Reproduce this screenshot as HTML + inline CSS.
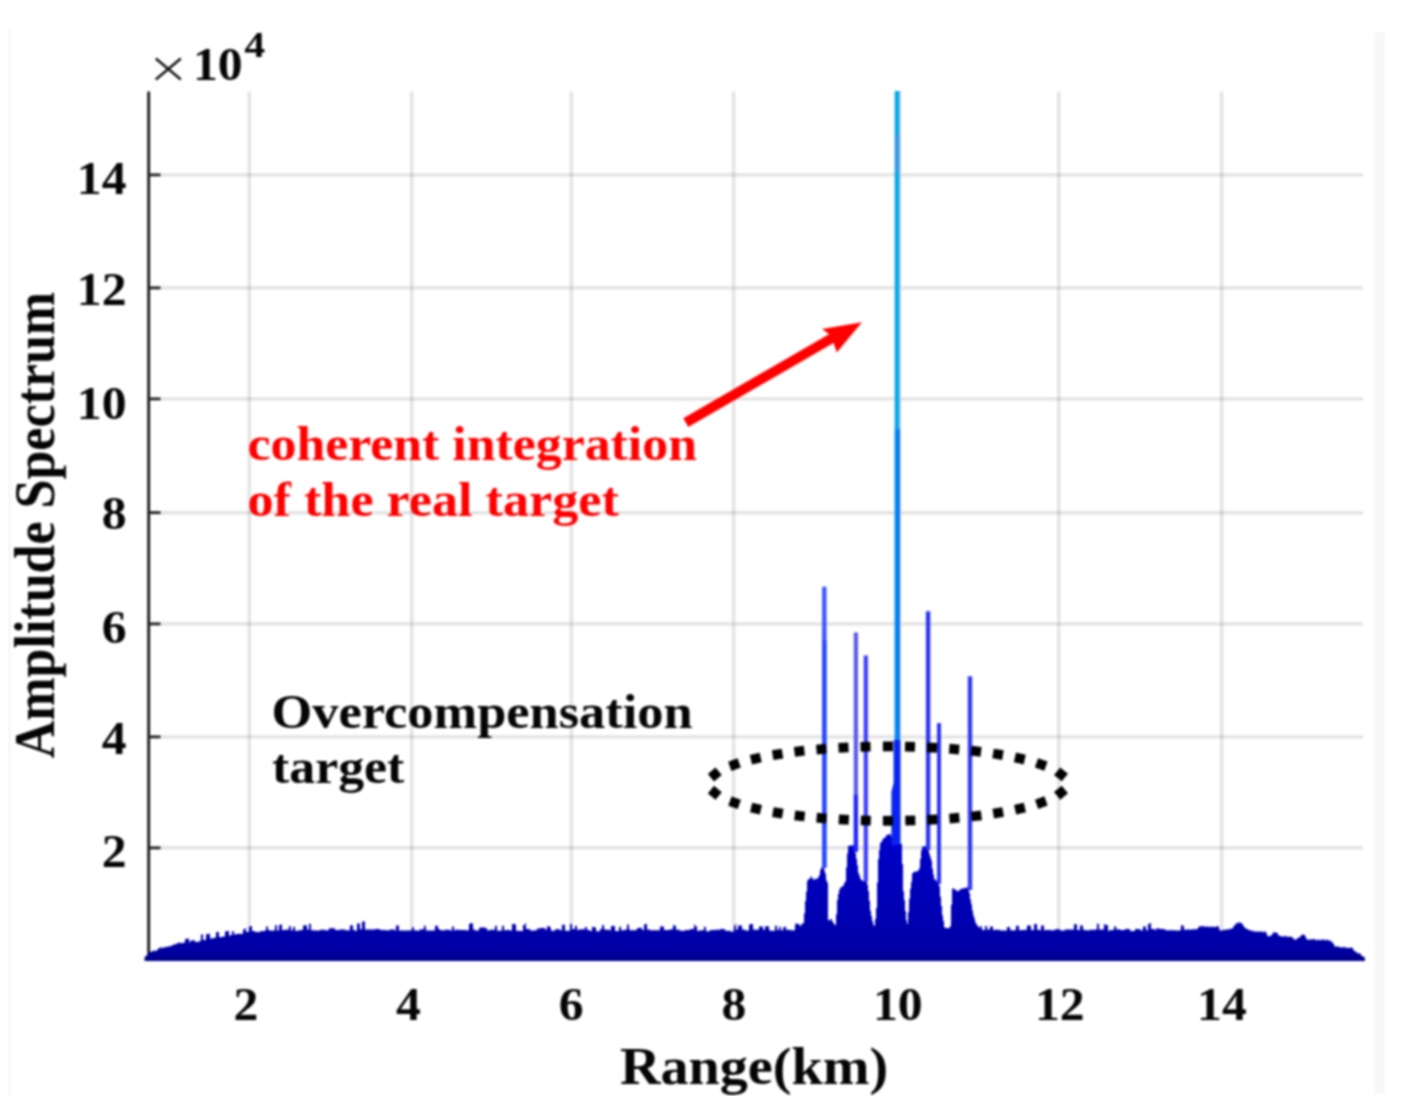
<!DOCTYPE html><html><head><meta charset="utf-8"><style>html,body{margin:0;padding:0;background:#fff;}svg{display:block;}text{font-family:"Liberation Serif",serif;font-weight:bold;}</style></head><body>
<div id="w">
<svg width="1412" height="1120" viewBox="0 0 1412 1120">
<defs><filter id="bl" x="0" y="0" width="1" height="1" color-interpolation-filters="sRGB"><feGaussianBlur stdDeviation="0.9"/></filter></defs>
<rect width="1412" height="1120" fill="#fff"/>
<g filter="url(#bl)">
<rect x="8.5" y="30" width="2" height="1066" fill="#f3f3f3"/>
<rect x="1374.5" y="32" width="10.5" height="1062" fill="#f7f7f8"/>
<path d="M148.7 174.9H1363.0M148.7 287.9H1363.0M148.7 398.9H1363.0M148.7 512.7H1363.0M148.7 623.9H1363.0M148.7 736.9H1363.0M148.7 847.8H1363.0" stroke="#000" stroke-opacity="0.11" stroke-width="3.4" fill="none"/>
<path d="M249.3 91.6V960.0M411.7 91.6V960.0M571.4 91.6V960.0M733.6 91.6V960.0M896.2 91.6V960.0M1058.7 91.6V960.0M1221.7 91.6V960.0" stroke="#000" stroke-opacity="0.11" stroke-width="3.4" fill="none"/>
<path d="M148.7 91.6V960.5" stroke="#141414" stroke-width="2.8" fill="none"/>
<path d="M148.7 174.9H160.5M148.7 287.9H160.5M148.7 398.9H160.5M148.7 512.7H160.5M148.7 623.9H160.5M148.7 736.9H160.5M148.7 847.8H160.5" stroke="#202020" stroke-width="2.8" fill="none"/>
<defs><linearGradient id="nv" gradientUnits="userSpaceOnUse" x1="0" y1="830" x2="0" y2="960"><stop offset="0" stop-color="#0000cc"/><stop offset="0.7" stop-color="#0000b0"/><stop offset="0.92" stop-color="#0000a4"/><stop offset="1" stop-color="#00008c"/></linearGradient></defs>
<path d="M144.5 961.0L144.5 957.5L145 956.5L146 956.5L146 955.5L147 955.5L147 954.8L148 954.8L148 953.1L149 953.1L149 952.4L150 952.4L150 951.8L151 951.8L151 952.1L152 952.1L152 950.9L153 950.9L153 950.6L154 950.6L154 951.1L155 951.1L155 950.8L156 950.8L156 950.4L157 950.4L157 950.1L158 950.1L158 948.5L159 948.5L159 947.9L160 947.9L160 947.1L161 947.1L161 948.2L162 948.2L162 947.8L163 947.8L163 947.4L164 947.4L164 947.2L165 947.2L165 947.1L166 947.1L166 946.9L167 946.9L167 946.7L168 946.7L168 946.5L169 946.5L169 946.3L170 946.3L170 946.0L171 946.0L171 945.8L172 945.8L172 945.3L173 945.3L173 944.8L174 944.8L174 944.3L175 944.3L175 944.2L176 944.2L176 943.7L177 943.7L177 943.2L178 943.2L178 942.7L179 942.7L179 942.6L180 942.6L180 943.2L181 943.2L181 943.1L182 943.1L182 942.9L183 942.9L183 942.8L184 942.8L184 942.7L185 942.7L185 939.1L186 939.1L186 938.9L187 938.9L187 938.6L188 938.6L188 938.4L189 938.4L189 942.4L190 942.4L190 940.8L191 940.8L191 940.6L192 940.6L192 940.5L193 940.5L193 940.3L194 940.3L194 940.2L195 940.2L195 942.1L196 942.1L196 942.0L197 942.0L197 941.8L198 941.8L198 941.7L199 941.7L199 941.6L200 941.6L200 940.4L201 940.4L201 934.5L202 934.5L202 934.3L203 934.3L203 939.9L204 939.9L204 939.7L205 939.7L205 940.0L206 940.0L206 934.3L207 934.3L207 934.1L208 934.1L208 934.0L209 934.0L209 933.8L210 933.8L210 938.6L211 938.6L211 938.4L212 938.4L212 938.3L213 938.3L213 938.1L214 938.1L214 937.9L215 937.9L215 937.6L216 937.6L216 932.3L217 932.3L217 932.1L218 932.1L218 932.0L219 932.0L219 936.9L220 936.9L220 937.2L221 937.2L221 937.0L222 937.0L222 936.8L223 936.8L223 936.6L224 936.6L224 936.5L225 936.5L225 931.4L226 931.4L226 931.2L227 931.2L227 931.1L228 931.1L228 930.9L229 930.9L229 935.9L230 935.9L230 935.1L231 935.1L231 934.9L232 934.9L232 931.3L233 931.3L233 931.2L234 931.2L234 934.4L235 934.4L235 934.3L236 934.3L236 934.1L237 934.1L237 934.0L238 934.0L238 933.8L239 933.8L239 933.7L240 933.7L240 934.0L241 934.0L241 933.9L242 933.9L242 933.7L243 933.7L243 929.4L244 929.4L244 929.3L245 929.3L245 928.2L246 928.2L246 932.1L247 932.1L247 932.0L248 932.0L248 931.8L249 931.8L249 926.7L250 926.7L250 926.2L251 926.2L251 926.1L252 926.1L252 931.0L253 931.0L253 931.0L254 931.0L254 930.9L255 930.9L255 932.0L256 932.0L256 932.0L257 932.0L257 932.0L258 932.0L258 931.9L259 931.9L259 931.9L260 931.9L260 931.2L261 931.2L261 931.2L262 931.2L262 931.1L263 931.1L263 931.1L264 931.1L264 931.0L265 931.0L265 930.2L266 930.2L266 926.5L267 926.5L267 926.5L268 926.5L268 930.1L269 930.1L269 930.1L270 930.1L270 930.7L271 930.7L271 930.7L272 930.7L272 930.6L273 930.6L273 930.6L274 930.6L274 930.6L275 930.6L275 925.3L276 925.3L276 925.3L277 925.3L277 930.6L278 930.6L278 930.6L279 930.6L279 925.0L280 925.0L280 924.6L281 924.6L281 924.5L282 924.5L282 930.0L283 930.0L283 930.0L284 930.0L284 929.9L285 929.9L285 929.7L286 929.7L286 929.7L287 929.7L287 929.6L288 929.6L288 929.6L289 929.6L289 925.7L290 925.7L290 926.6L291 926.6L291 930.4L292 930.4L292 930.3L293 930.3L293 926.9L294 926.9L294 926.8L295 926.8L295 930.7L296 930.7L296 930.7L297 930.7L297 930.7L298 930.7L298 930.6L299 930.6L299 930.6L300 930.6L300 929.9L301 929.9L301 929.9L302 929.9L302 929.9L303 929.9L303 925.5L304 925.5L304 925.5L305 925.5L305 925.2L306 925.2L306 925.2L307 925.2L307 929.6L308 929.6L308 929.6L309 929.6L309 923.4L310 923.4L310 924.0L311 924.0L311 930.2L312 930.2L312 930.2L313 930.2L313 930.2L314 930.2L314 930.2L315 930.2L315 930.4L316 930.4L316 930.4L317 930.4L317 930.4L318 930.4L318 930.4L319 930.4L319 930.4L320 930.4L320 929.8L321 929.8L321 929.8L322 929.8L322 929.8L323 929.8L323 929.8L324 929.8L324 929.8L325 929.8L325 930.3L326 930.3L326 930.3L327 930.3L327 930.3L328 930.3L328 930.3L329 930.3L329 927.9L330 927.9L330 928.2L331 928.2L331 928.2L332 928.2L332 928.2L333 928.2L333 928.2L334 928.2L334 928.2L335 928.2L335 929.9L336 929.9L336 929.9L337 929.9L337 929.9L338 929.9L338 929.9L339 929.9L339 929.9L340 929.9L340 929.5L341 929.5L341 929.5L342 929.5L342 929.5L343 929.5L343 929.5L344 929.5L344 929.5L345 929.5L345 930.2L346 930.2L346 930.2L347 930.2L347 930.2L348 930.2L348 930.2L349 930.2L349 930.2L350 930.2L350 925.3L351 925.3L351 925.3L352 925.3L352 925.3L353 925.3L353 930.1L354 930.1L354 930.1L355 930.1L355 930.7L356 930.7L356 930.7L357 930.7L357 923.6L358 923.6L358 923.6L359 923.6L359 923.6L360 923.6L360 929.2L361 929.2L361 929.2L362 929.2L362 921.6L363 921.6L363 921.6L364 921.6L364 921.6L365 921.6L365 929.6L366 929.6L366 929.6L367 929.6L367 929.6L368 929.6L368 929.6L369 929.6L369 929.6L370 929.6L370 929.5L371 929.5L371 929.5L372 929.5L372 929.5L373 929.5L373 929.5L374 929.5L374 929.5L375 929.5L375 929.0L376 929.0L376 929.0L377 929.0L377 929.0L378 929.0L378 929.0L379 929.0L379 929.0L380 929.0L380 930.1L381 930.1L381 930.1L382 930.1L382 930.1L383 930.1L383 930.1L384 930.1L384 930.1L385 930.1L385 930.3L386 930.3L386 930.3L387 930.3L387 930.3L388 930.3L388 930.3L389 930.3L389 930.3L390 930.3L390 929.6L391 929.6L391 929.6L392 929.6L392 929.6L393 929.6L393 929.6L394 929.6L394 929.6L395 929.6L395 930.8L396 930.8L396 925.5L397 925.5L397 925.5L398 925.5L398 925.5L399 925.5L399 930.8L400 930.8L400 930.5L401 930.5L401 930.5L402 930.5L402 930.5L403 930.5L403 930.5L404 930.5L404 930.5L405 930.5L405 930.4L406 930.4L406 930.4L407 930.4L407 930.4L408 930.4L408 930.4L409 930.4L409 930.4L410 930.4L410 930.2L411 930.2L411 930.2L412 930.2L412 927.2L413 927.2L413 927.2L414 927.2L414 930.2L415 930.2L415 930.6L416 930.6L416 930.6L417 930.6L417 930.6L418 930.6L418 930.6L419 930.6L419 930.6L420 930.6L420 929.2L421 929.2L421 929.2L422 929.2L422 929.2L423 929.2L423 929.2L424 929.2L424 925.2L425 925.2L425 926.4L426 926.4L426 930.4L427 930.4L427 930.4L428 930.4L428 930.4L429 930.4L429 930.4L430 930.4L430 930.4L431 930.4L431 930.4L432 930.4L432 930.4L433 930.4L433 930.4L434 930.4L434 930.4L435 930.4L435 925.7L436 925.7L436 925.7L437 925.7L437 925.7L438 925.7L438 928.9L439 928.9L439 928.9L440 928.9L440 930.2L441 930.2L441 930.2L442 930.2L442 930.2L443 930.2L443 930.2L444 930.2L444 930.2L445 930.2L445 929.8L446 929.8L446 929.8L447 929.8L447 929.8L448 929.8L448 929.8L449 929.8L449 929.8L450 929.8L450 930.5L451 930.5L451 930.5L452 930.5L452 926.5L453 926.5L453 926.5L454 926.5L454 930.5L455 930.5L455 929.7L456 929.7L456 929.7L457 929.7L457 929.7L458 929.7L458 929.7L459 929.7L459 929.7L460 929.7L460 930.0L461 930.0L461 930.0L462 930.0L462 930.0L463 930.0L463 930.0L464 930.0L464 930.0L465 930.0L465 930.2L466 930.2L466 930.2L467 930.2L467 930.2L468 930.2L468 930.2L469 930.2L469 924.0L470 924.0L470 923.2L471 923.2L471 923.2L472 923.2L472 923.2L473 923.2L473 929.5L474 929.5L474 929.5L475 929.5L475 930.4L476 930.4L476 930.4L477 930.4L477 930.4L478 930.4L478 930.4L479 930.4L479 928.0L480 928.0L480 927.5L481 927.5L481 927.5L482 927.5L482 927.5L483 927.5L483 927.5L484 927.5L484 927.5L485 927.5L485 927.9L486 927.9L486 927.9L487 927.9L487 930.3L488 930.3L488 930.3L489 930.3L489 930.3L490 930.3L490 929.7L491 929.7L491 929.7L492 929.7L492 929.7L493 929.7L493 929.7L494 929.7L494 929.7L495 929.7L495 925.7L496 925.7L496 925.7L497 925.7L497 930.7L498 930.7L498 930.7L499 930.7L499 930.7L500 930.7L500 930.4L501 930.4L501 930.4L502 930.4L502 925.8L503 925.8L503 925.8L504 925.8L504 930.4L505 930.4L505 929.9L506 929.9L506 929.9L507 929.9L507 929.9L508 929.9L508 929.9L509 929.9L509 929.9L510 929.9L510 930.4L511 930.4L511 930.4L512 930.4L512 924.1L513 924.1L513 924.1L514 924.1L514 924.1L515 924.1L515 924.5L516 924.5L516 930.8L517 930.8L517 930.8L518 930.8L518 930.8L519 930.8L519 930.8L520 930.8L520 931.1L521 931.1L521 931.1L522 931.1L522 931.1L523 931.1L523 925.0L524 925.0L524 925.0L525 925.0L525 922.9L526 922.9L526 929.1L527 929.1L527 929.1L528 929.1L528 929.1L529 929.1L529 929.1L530 929.1L530 930.5L531 930.5L531 930.5L532 930.5L532 930.5L533 930.5L533 930.5L534 930.5L534 930.5L535 930.5L535 930.3L536 930.3L536 930.3L537 930.3L537 928.4L538 928.4L538 928.4L539 928.4L539 928.4L540 928.4L540 928.0L541 928.0L541 928.0L542 928.0L542 928.0L543 928.0L543 928.0L544 928.0L544 928.0L545 928.0L545 929.4L546 929.4L546 929.4L547 929.4L547 926.3L548 926.3L548 926.3L549 926.3L549 926.3L550 926.3L550 927.7L551 927.7L551 930.8L552 930.8L552 930.8L553 930.8L553 930.8L554 930.8L554 930.8L555 930.8L555 929.2L556 929.2L556 929.2L557 929.2L557 929.2L558 929.2L558 929.2L559 929.2L559 929.2L560 929.2L560 930.3L561 930.3L561 930.3L562 930.3L562 924.7L563 924.7L563 924.7L564 924.7L564 924.7L565 924.7L565 930.8L566 930.8L566 930.8L567 930.8L567 930.8L568 930.8L568 930.8L569 930.8L569 930.8L570 930.8L570 924.1L571 924.1L571 924.1L572 924.1L572 929.0L573 929.0L573 929.0L574 929.0L574 929.0L575 929.0L575 925.7L576 925.7L576 925.7L577 925.7L577 929.8L578 929.8L578 929.8L579 929.8L579 929.8L580 929.8L580 929.2L581 929.2L581 929.2L582 929.2L582 929.2L583 929.2L583 929.2L584 929.2L584 929.2L585 929.2L585 926.9L586 926.9L586 926.9L587 926.9L587 930.1L588 930.1L588 930.1L589 930.1L589 930.1L590 930.1L590 930.9L591 930.9L591 930.9L592 930.9L592 927.1L593 927.1L593 927.1L594 927.1L594 927.1L595 927.1L595 927.4L596 927.4L596 931.2L597 931.2L597 931.2L598 931.2L598 931.2L599 931.2L599 931.2L600 931.2L600 928.9L601 928.9L601 928.9L602 928.9L602 925.0L603 925.0L603 925.0L604 925.0L604 928.9L605 928.9L605 929.7L606 929.7L606 929.7L607 929.7L607 929.7L608 929.7L608 929.7L609 929.7L609 929.7L610 929.7L610 930.4L611 930.4L611 925.9L612 925.9L612 925.9L613 925.9L613 925.9L614 925.9L614 925.9L615 925.9L615 930.9L616 930.9L616 930.9L617 930.9L617 930.9L618 930.9L618 930.9L619 930.9L619 927.1L620 927.1L620 926.4L621 926.4L621 930.3L622 930.3L622 930.3L623 930.3L623 930.3L624 930.3L624 930.3L625 930.3L625 929.6L626 929.6L626 929.6L627 929.6L627 924.6L628 924.6L628 924.6L629 924.6L629 929.6L630 929.6L630 930.2L631 930.2L631 930.2L632 930.2L632 930.2L633 930.2L633 930.2L634 930.2L634 930.2L635 930.2L635 930.0L636 930.0L636 930.0L637 930.0L637 927.9L638 927.9L638 927.9L639 927.9L639 927.9L640 927.9L640 927.8L641 927.8L641 927.8L642 927.8L642 929.9L643 929.9L643 929.9L644 929.9L644 924.4L645 924.4L645 924.0L646 924.0L646 924.0L647 924.0L647 929.6L648 929.6L648 929.6L649 929.6L649 929.6L650 929.6L650 930.2L651 930.2L651 930.2L652 930.2L652 930.2L653 930.2L653 930.2L654 930.2L654 930.2L655 930.2L655 930.2L656 930.2L656 930.2L657 930.2L657 930.2L658 930.2L658 930.2L659 930.2L659 930.2L660 930.2L660 926.6L661 926.6L661 926.6L662 926.6L662 926.6L663 926.6L663 926.6L664 926.6L664 929.9L665 929.9L665 929.9L666 929.9L666 929.9L667 929.9L667 929.9L668 929.9L668 929.9L669 929.9L669 929.9L670 929.9L670 929.2L671 929.2L671 929.2L672 929.2L672 929.2L673 929.2L673 925.2L674 925.2L674 925.2L675 925.2L675 925.7L676 925.7L676 929.7L677 929.7L677 929.7L678 929.7L678 929.7L679 929.7L679 929.7L680 929.7L680 930.7L681 930.7L681 930.7L682 930.7L682 930.7L683 930.7L683 930.7L684 930.7L684 930.7L685 930.7L685 929.9L686 929.9L686 929.9L687 929.9L687 929.9L688 929.9L688 929.9L689 929.9L689 929.9L690 929.9L690 929.1L691 929.1L691 929.1L692 929.1L692 929.1L693 929.1L693 929.1L694 929.1L694 924.6L695 924.6L695 926.2L696 926.2L696 926.2L697 926.2L697 930.8L698 930.8L698 930.8L699 930.8L699 930.8L700 930.8L700 930.3L701 930.3L701 930.3L702 930.3L702 930.3L703 930.3L703 930.3L704 930.3L704 926.4L705 926.4L705 927.3L706 927.3L706 931.3L707 931.3L707 931.3L708 931.3L708 931.3L709 931.3L709 931.3L710 931.3L710 930.0L711 930.0L711 930.0L712 930.0L712 930.0L713 930.0L713 930.0L714 930.0L714 930.0L715 930.0L715 929.7L716 929.7L716 929.7L717 929.7L717 929.7L718 929.7L718 929.7L719 929.7L719 929.7L720 929.7L720 929.1L721 929.1L721 929.1L722 929.1L722 929.1L723 929.1L723 929.1L724 929.1L724 929.1L725 929.1L725 930.8L726 930.8L726 930.8L727 930.8L727 930.8L728 930.8L728 930.8L729 930.8L729 930.8L730 930.8L730 931.5L731 931.5L731 931.5L732 931.5L732 931.5L733 931.5L733 931.5L734 931.5L734 926.0L735 926.0L735 924.0L736 924.0L736 929.5L737 929.5L737 929.5L738 929.5L738 925.5L739 925.5L739 925.5L740 925.5L740 925.6L741 925.6L741 925.6L742 925.6L742 929.6L743 929.6L743 929.6L744 929.6L744 929.6L745 929.6L745 930.4L746 930.4L746 930.4L747 930.4L747 930.4L748 930.4L748 930.4L749 930.4L749 924.7L750 924.7L750 923.9L751 923.9L751 923.9L752 923.9L752 923.9L753 923.9L753 929.5L754 929.5L754 929.5L755 929.5L755 929.8L756 929.8L756 929.8L757 929.8L757 929.8L758 929.8L758 929.8L759 929.8L759 926.4L760 926.4L760 926.4L761 926.4L761 926.4L762 926.4L762 926.4L763 926.4L763 929.8L764 929.8L764 929.8L765 929.8L765 926.3L766 926.3L766 926.3L767 926.3L767 926.3L768 926.3L768 926.3L769 926.3L769 930.1L770 930.1L770 930.7L771 930.7L771 930.7L772 930.7L772 930.7L773 930.7L773 930.7L774 930.7L774 930.7L775 930.7L775 925.7L776 925.7L776 925.7L777 925.7L777 930.0L778 930.0L778 930.0L779 930.0L779 926.7L780 926.7L780 927.3L781 927.3L781 930.6L782 930.6L782 930.6L783 930.6L783 927.2L784 927.2L784 927.2L785 927.2L785 926.4L786 926.4L786 929.7L787 929.7L787 929.7L788 929.7L788 929.7L789 929.7L789 929.7L790 929.7L790 930.2L791 930.2L791 930.2L792 930.2L792 930.2L793 930.2L793 930.2L794 930.2L794 930.2L795 930.2L795 923.7L796 923.7L796 923.7L797 923.7L797 923.7L798 923.7L798 923.7L799 923.7L799 925.1L800 925.1L800 926.3L801 926.3L801 924.4L802 924.4L802 923.3L803 923.3L803 923.3L804 923.3L804 913.3L805 913.3L805 900.9L806 900.9L806 891.8L807 891.8L807 880.7L808 880.7L808 879.2L809 879.2L809 879.0L810 879.0L810 877.5L811 877.5L811 876.3L812 876.3L812 878.6L813 878.6L813 879.5L814 879.5L814 879.6L815 879.6L815 878.8L816 878.8L816 878.8L817 878.8L817 878.7L818 878.7L818 877.0L819 877.0L819 875.3L820 875.3L820 870.0L821 870.0L821 867.5L822 867.5L822 864.8L823 864.8L823 867.1L824 867.1L824 870.4L825 870.4L825 873.7L826 873.7L826 880.3L827 880.3L827 882.7L828 882.7L828 920.0L829 920.0L829 920.6L830 920.6L830 919.3L831 919.3L831 918.9L832 918.9L832 921.6L833 921.6L833 923.0L834 923.0L834 924.3L835 924.3L835 925.3L836 925.3L836 914.3L837 914.3L837 899.9L838 899.9L838 894.1L839 894.1L839 889.7L840 889.7L840 887.8L841 887.8L841 886.9L842 886.9L842 886.2L843 886.2L843 885.4L844 885.4L844 882.9L845 882.9L845 881.3L846 881.3L846 867.3L847 867.3L847 853.6L848 853.6L848 846.1L849 846.1L849 845.5L850 845.5L850 845.4L851 845.4L851 845.7L852 845.7L852 845.0L853 845.0L853 845.4L854 845.4L854 845.6L855 845.6L855 852.9L856 852.9L856 858.8L857 858.8L857 865.3L858 865.3L858 872.7L859 872.7L859 875.4L860 875.4L860 878.4L861 878.4L861 880.0L862 880.0L862 880.8L863 880.8L863 880.7L864 880.7L864 880.3L865 880.3L865 878.8L866 878.8L866 877.4L867 877.4L867 884.5L868 884.5L868 891.1L869 891.1L869 900.7L870 900.7L870 910.7L871 910.7L871 915.9L872 915.9L872 921.1L873 921.1L873 924.5L874 924.5L874 926.0L875 926.0L875 919.1L876 919.1L876 907.9L877 907.9L877 882.5L878 882.5L878 859.1L879 859.1L879 849.9L880 849.9L880 842.7L881 842.7L881 841.9L882 841.9L882 839.8L883 839.8L883 838.6L884 838.6L884 837.7L885 837.7L885 837.2L886 837.2L886 835.1L887 835.1L887 835.2L888 835.2L888 834.3L889 834.3L889 834.3L890 834.3L890 834.6L891 834.6L891 837.1L892 837.1L892 837.7L893 837.7L893 836.7L894 836.7L894 834.1L895 834.1L895 833.2L896 833.2L896 835.6L897 835.6L897 835.7L898 835.7L898 838.3L899 838.3L899 839.9L900 839.9L900 842.9L901 842.9L901 844.0L902 844.0L902 863.9L903 863.9L903 891.2L904 891.2L904 899.9L905 899.9L905 911.0L906 911.0L906 920.3L907 920.3L907 924.1L908 924.1L908 911.9L909 911.9L909 899.1L910 899.1L910 888.7L911 888.7L911 882.1L912 882.1L912 873.5L913 873.5L913 872.1L914 872.1L914 872.2L915 872.2L915 871.0L916 871.0L916 872.1L917 872.1L917 870.7L918 870.7L918 870.4L919 870.4L919 868.3L920 868.3L920 859.1L921 859.1L921 850.4L922 850.4L922 846.8L923 846.8L923 846.4L924 846.4L924 846.5L925 846.5L925 846.0L926 846.0L926 845.2L927 845.2L927 846.3L928 846.3L928 850.2L929 850.2L929 854.0L930 854.0L930 857.3L931 857.3L931 860.4L932 860.4L932 868.8L933 868.8L933 874.6L934 874.6L934 879.8L935 879.8L935 879.0L936 879.0L936 880.9L937 880.9L937 879.9L938 879.9L938 880.8L939 880.8L939 886.4L940 886.4L940 896.7L941 896.7L941 906.0L942 906.0L942 915.3L943 915.3L943 920.8L944 920.8L944 927.2L945 927.2L945 928.1L946 928.1L946 928.1L947 928.1L947 928.1L948 928.1L948 928.1L949 928.1L949 928.1L950 928.1L950 926.0L951 926.0L951 904.7L952 904.7L952 888.8L953 888.8L953 888.2L954 888.2L954 889.1L955 889.1L955 890.0L956 890.0L956 890.3L957 890.3L957 891.2L958 891.2L958 891.2L959 891.2L959 889.8L960 889.8L960 889.3L961 889.3L961 888.7L962 888.7L962 888.7L963 888.7L963 887.9L964 887.9L964 888.2L965 888.2L965 887.8L966 887.8L966 887.5L967 887.5L967 887.6L968 887.6L968 887.0L969 887.0L969 892.9L970 892.9L970 899.6L971 899.6L971 904.3L972 904.3L972 910.6L973 910.6L973 915.3L974 915.3L974 918.6L975 918.6L975 922.2L976 922.2L976 924.0L977 924.0L977 925.7L978 925.7L978 926.6L979 926.6L979 928.0L980 928.0L980 926.3L981 926.3L981 926.3L982 926.3L982 929.9L983 929.9L983 929.9L984 929.9L984 929.9L985 929.9L985 926.0L986 926.0L986 926.0L987 926.0L987 929.6L988 929.6L988 929.6L989 929.6L989 929.6L990 929.6L990 926.4L991 926.4L991 926.4L992 926.4L992 926.4L993 926.4L993 930.1L994 930.1L994 930.1L995 930.1L995 929.7L996 929.7L996 929.7L997 929.7L997 929.7L998 929.7L998 929.7L999 929.7L999 929.7L1000 929.7L1000 930.4L1001 930.4L1001 930.4L1002 930.4L1002 930.4L1003 930.4L1003 930.4L1004 930.4L1004 930.4L1005 930.4L1005 930.5L1006 930.5L1006 930.5L1007 930.5L1007 927.1L1008 927.1L1008 927.1L1009 927.1L1009 927.1L1010 927.1L1010 930.2L1011 930.2L1011 930.2L1012 930.2L1012 930.2L1013 930.2L1013 930.2L1014 930.2L1014 930.2L1015 930.2L1015 930.2L1016 930.2L1016 925.8L1017 925.8L1017 925.8L1018 925.8L1018 925.8L1019 925.8L1019 930.2L1020 930.2L1020 930.1L1021 930.1L1021 930.1L1022 930.1L1022 930.1L1023 930.1L1023 930.1L1024 930.1L1024 930.1L1025 930.1L1025 929.7L1026 929.7L1026 929.7L1027 929.7L1027 925.5L1028 925.5L1028 925.5L1029 925.5L1029 925.5L1030 925.5L1030 925.7L1031 925.7L1031 929.9L1032 929.9L1032 929.9L1033 929.9L1033 929.9L1034 929.9L1034 924.3L1035 924.3L1035 924.1L1036 924.1L1036 924.1L1037 924.1L1037 929.7L1038 929.7L1038 929.7L1039 929.7L1039 929.7L1040 929.7L1040 930.2L1041 930.2L1041 925.5L1042 925.5L1042 925.5L1043 925.5L1043 925.5L1044 925.5L1044 930.2L1045 930.2L1045 930.0L1046 930.0L1046 930.0L1047 930.0L1047 930.0L1048 930.0L1048 930.0L1049 930.0L1049 930.0L1050 930.0L1050 930.3L1051 930.3L1051 930.3L1052 930.3L1052 930.3L1053 930.3L1053 930.3L1054 930.3L1054 930.3L1055 930.3L1055 929.2L1056 929.2L1056 929.2L1057 929.2L1057 929.2L1058 929.2L1058 929.2L1059 929.2L1059 929.2L1060 929.2L1060 930.5L1061 930.5L1061 930.5L1062 930.5L1062 930.5L1063 930.5L1063 930.5L1064 930.5L1064 930.5L1065 930.5L1065 929.5L1066 929.5L1066 929.5L1067 929.5L1067 929.5L1068 929.5L1068 929.5L1069 929.5L1069 929.5L1070 929.5L1070 929.6L1071 929.6L1071 929.6L1072 929.6L1072 929.6L1073 929.6L1073 929.6L1074 929.6L1074 923.9L1075 923.9L1075 924.2L1076 924.2L1076 924.2L1077 924.2L1077 929.9L1078 929.9L1078 929.9L1079 929.9L1079 929.9L1080 929.9L1080 925.5L1081 925.5L1081 925.5L1082 925.5L1082 925.5L1083 925.5L1083 929.7L1084 929.7L1084 929.7L1085 929.7L1085 930.2L1086 930.2L1086 930.2L1087 930.2L1087 930.2L1088 930.2L1088 930.2L1089 930.2L1089 930.2L1090 930.2L1090 929.7L1091 929.7L1091 929.7L1092 929.7L1092 929.7L1093 929.7L1093 929.7L1094 929.7L1094 929.7L1095 929.7L1095 929.4L1096 929.4L1096 929.4L1097 929.4L1097 923.7L1098 923.7L1098 923.7L1099 923.7L1099 929.4L1100 929.4L1100 929.5L1101 929.5L1101 929.5L1102 929.5L1102 929.5L1103 929.5L1103 929.5L1104 929.5L1104 923.8L1105 923.8L1105 925.1L1106 925.1L1106 925.1L1107 925.1L1107 925.1L1108 925.1L1108 930.8L1109 930.8L1109 930.8L1110 930.8L1110 930.0L1111 930.0L1111 930.0L1112 930.0L1112 930.0L1113 930.0L1113 930.0L1114 930.0L1114 926.8L1115 926.8L1115 926.1L1116 926.1L1116 929.3L1117 929.3L1117 929.3L1118 929.3L1118 929.3L1119 929.3L1119 929.3L1120 929.3L1120 930.0L1121 930.0L1121 930.0L1122 930.0L1122 930.0L1123 930.0L1123 930.0L1124 930.0L1124 930.0L1125 930.0L1125 929.1L1126 929.1L1126 929.1L1127 929.1L1127 929.1L1128 929.1L1128 929.1L1129 929.1L1129 929.1L1130 929.1L1130 931.1L1131 931.1L1131 931.1L1132 931.1L1132 931.1L1133 931.1L1133 931.1L1134 931.1L1134 931.1L1135 931.1L1135 929.1L1136 929.1L1136 929.1L1137 929.1L1137 929.1L1138 929.1L1138 929.1L1139 929.1L1139 929.1L1140 929.1L1140 930.3L1141 930.3L1141 930.3L1142 930.3L1142 930.3L1143 930.3L1143 926.4L1144 926.4L1144 926.4L1145 926.4L1145 926.4L1146 926.4L1146 930.3L1147 930.3L1147 930.3L1148 930.3L1148 923.9L1149 923.9L1149 923.9L1150 923.9L1150 922.7L1151 922.7L1151 929.1L1152 929.1L1152 929.1L1153 929.1L1153 929.1L1154 929.1L1154 929.1L1155 929.1L1155 930.2L1156 930.2L1156 928.5L1157 928.5L1157 928.5L1158 928.5L1158 928.5L1159 928.5L1159 928.5L1160 928.5L1160 928.9L1161 928.9L1161 928.9L1162 928.9L1162 928.9L1163 928.9L1163 928.9L1164 928.9L1164 928.9L1165 928.9L1165 930.3L1166 930.3L1166 930.3L1167 930.3L1167 930.3L1168 930.3L1168 930.3L1169 930.3L1169 930.3L1170 930.3L1170 930.2L1171 930.2L1171 930.2L1172 930.2L1172 930.2L1173 930.2L1173 930.2L1174 930.2L1174 930.2L1175 930.2L1175 930.6L1176 930.6L1176 930.6L1177 930.6L1177 930.6L1178 930.6L1178 930.6L1179 930.6L1179 930.6L1180 930.6L1180 930.1L1181 930.1L1181 925.0L1182 925.0L1182 925.5L1183 925.5L1183 925.9L1184 925.9L1184 929.7L1185 929.7L1185 929.7L1186 929.7L1186 929.6L1187 929.6L1187 929.5L1188 929.5L1188 929.4L1189 929.4L1189 929.4L1190 929.4L1190 929.9L1191 929.9L1191 929.0L1192 929.0L1192 929.7L1193 929.7L1193 928.9L1194 928.9L1194 929.3L1195 929.3L1195 929.5L1196 929.5L1196 929.2L1197 929.2L1197 928.8L1198 928.8L1198 927.5L1199 927.5L1199 926.1L1200 926.1L1200 926.5L1201 926.5L1201 926.4L1202 926.4L1202 925.8L1203 925.8L1203 926.4L1204 926.4L1204 926.2L1205 926.2L1205 927.0L1206 927.0L1206 926.2L1207 926.2L1207 927.1L1208 927.1L1208 926.3L1209 926.3L1209 927.2L1210 927.2L1210 926.7L1211 926.7L1211 926.7L1212 926.7L1212 926.8L1213 926.8L1213 926.8L1214 926.8L1214 927.0L1215 927.0L1215 927.1L1216 927.1L1216 926.4L1217 926.4L1217 926.1L1218 926.1L1218 926.6L1219 926.6L1219 929.4L1220 929.4L1220 930.7L1221 930.7L1221 930.4L1222 930.4L1222 930.2L1223 930.2L1223 929.9L1224 929.9L1224 929.7L1225 929.7L1225 929.7L1226 929.7L1226 929.8L1227 929.8L1227 928.9L1228 928.9L1228 929.7L1229 929.7L1229 928.8L1230 928.8L1230 929.1L1231 929.1L1231 928.8L1232 928.8L1232 928.2L1233 928.2L1233 926.7L1234 926.7L1234 925.3L1235 925.3L1235 924.4L1236 924.4L1236 922.8L1237 922.8L1237 923.4L1238 923.4L1238 922.5L1239 922.5L1239 922.6L1240 922.6L1240 922.7L1241 922.7L1241 923.2L1242 923.2L1242 923.9L1243 923.9L1243 925.9L1244 925.9L1244 927.3L1245 927.3L1245 927.9L1246 927.9L1246 929.1L1247 929.1L1247 929.0L1248 929.0L1248 929.7L1249 929.7L1249 930.1L1250 930.1L1250 930.4L1251 930.4L1251 930.7L1252 930.7L1252 930.6L1253 930.6L1253 931.4L1254 931.4L1254 931.2L1255 931.2L1255 931.6L1256 931.6L1256 931.8L1257 931.8L1257 931.5L1258 931.5L1258 931.2L1259 931.2L1259 931.9L1260 931.9L1260 931.4L1261 931.4L1261 931.5L1262 931.5L1262 931.5L1263 931.5L1263 932.2L1264 932.2L1264 931.9L1265 931.9L1265 931.2L1266 931.2L1266 933.3L1267 933.3L1267 935.7L1268 935.7L1268 936.6L1269 936.6L1269 935.8L1270 935.8L1270 936.0L1271 936.0L1271 935.3L1272 935.3L1272 933.7L1273 933.7L1273 932.5L1274 932.5L1274 932.1L1275 932.1L1275 932.8L1276 932.8L1276 932.7L1277 932.7L1277 932.9L1278 932.9L1278 935.0L1279 935.0L1279 936.1L1280 936.1L1280 936.1L1281 936.1L1281 936.3L1282 936.3L1282 936.4L1283 936.4L1283 936.4L1284 936.4L1284 936.2L1285 936.2L1285 935.8L1286 935.8L1286 936.5L1287 936.5L1287 936.8L1288 936.8L1288 937.1L1289 937.1L1289 936.4L1290 936.4L1290 936.4L1291 936.4L1291 937.0L1292 937.0L1292 937.6L1293 937.6L1293 938.4L1294 938.4L1294 939.7L1295 939.7L1295 939.4L1296 939.4L1296 939.3L1297 939.3L1297 938.2L1298 938.2L1298 937.8L1299 937.8L1299 937.3L1300 937.3L1300 936.5L1301 936.5L1301 935.1L1302 935.1L1302 934.8L1303 934.8L1303 934.5L1304 934.5L1304 934.9L1305 934.9L1305 936.6L1306 936.6L1306 938.7L1307 938.7L1307 939.7L1308 939.7L1308 939.8L1309 939.8L1309 939.3L1310 939.3L1310 939.6L1311 939.6L1311 939.5L1312 939.5L1312 939.3L1313 939.3L1313 939.1L1314 939.1L1314 939.6L1315 939.6L1315 939.4L1316 939.4L1316 940.5L1317 940.5L1317 939.7L1318 939.7L1318 939.7L1319 939.7L1319 939.7L1320 939.7L1320 940.5L1321 940.5L1321 939.5L1322 939.5L1322 939.8L1323 939.8L1323 939.6L1324 939.6L1324 939.9L1325 939.9L1325 939.9L1326 939.9L1326 940.3L1327 940.3L1327 939.5L1328 939.5L1328 940.2L1329 940.2L1329 941.1L1330 941.1L1330 940.6L1331 940.6L1331 941.6L1332 941.6L1332 942.7L1333 942.7L1333 943.5L1334 943.5L1334 945.8L1335 945.8L1335 946.9L1336 946.9L1336 946.5L1337 946.5L1337 946.1L1338 946.1L1338 946.9L1339 946.9L1339 946.9L1340 946.9L1340 947.3L1341 947.3L1341 947.4L1342 947.4L1342 947.1L1343 947.1L1343 947.4L1344 947.4L1344 946.7L1345 946.7L1345 947.8L1346 947.8L1346 947.6L1347 947.6L1347 948.0L1348 948.0L1348 948.1L1349 948.1L1349 947.7L1350 947.7L1350 947.8L1351 947.8L1351 947.6L1352 947.6L1352 947.9L1353 947.9L1353 949.7L1354 949.7L1354 951.0L1355 951.0L1355 951.4L1356 951.4L1356 952.5L1357 952.5L1357 952.8L1358 952.8L1358 953.4L1359 953.4L1359 953.5L1360 953.5L1360 953.8L1361 953.8L1361 955.5L1362 955.5L1362 956.2L1363 956.2L1363 956.7L1364 956.7L1365 958L1365 961.0Z" fill="url(#nv)"/>
<path d="M824.3 868V586.7" stroke="#3c54ff" stroke-width="4.4" fill="none"/>
<path d="M855.9 852V632.6" stroke="#5a5ae8" stroke-width="4.2" fill="none"/>
<path d="M865.8 882V655.6" stroke="#3e3cff" stroke-width="4.2" fill="none"/>
<path d="M928.1 850V611.3" stroke="#2a34f2" stroke-width="4.4" fill="none"/>
<path d="M939.0 884V723.1" stroke="#2a30f0" stroke-width="4.0" fill="none"/>
<path d="M970.0 890V676.3" stroke="#3038f0" stroke-width="4.4" fill="none"/>
<path d="M824.3 868V640" stroke="#2a48ff" stroke-width="4.4" fill="none"/>
<path d="M855.9 852V795" stroke="#2020ff" stroke-width="4.2" fill="none"/>
<path d="M899.9 840.0V91" stroke="#a8c6ee" stroke-width="1.8" fill="none"/>
<path d="M896.9 840.0V91" stroke="#04aaea" stroke-width="4.4" fill="none"/>
<path d="M897.2 172V135" stroke="#3a96e2" stroke-width="4.0" fill="none"/>
<path d="M897.0 840.0V429" stroke="#0490ff" stroke-width="4.4" fill="none"/>
<path d="M898.4 840.0V429" stroke="#0a6cf0" stroke-width="2.4" fill="none"/>
<path d="M893.6 740H900.4V845H891.4V792L893.6 783Z" fill="#0a24f0"/>
<text transform="translate(126.5 193.6) scale(1.08 1)" font-size="46" text-anchor="end" fill="#050505">14</text>
<text transform="translate(126.5 304.8) scale(1.08 1)" font-size="46" text-anchor="end" fill="#050505">12</text>
<text transform="translate(126.5 418.5) scale(1.08 1)" font-size="46" text-anchor="end" fill="#050505">10</text>
<text transform="translate(126.5 529.2) scale(1.08 1)" font-size="46" text-anchor="end" fill="#050505">8</text>
<text transform="translate(126.5 642.7) scale(1.08 1)" font-size="46" text-anchor="end" fill="#050505">6</text>
<text transform="translate(126.5 753.6) scale(1.08 1)" font-size="46" text-anchor="end" fill="#050505">4</text>
<text transform="translate(126.5 867.2) scale(1.08 1)" font-size="46" text-anchor="end" fill="#050505">2</text>
<text transform="translate(246.0 1020.2) scale(1.08 1)" font-size="46" text-anchor="middle" fill="#050505">2</text>
<text transform="translate(408.5 1020.2) scale(1.08 1)" font-size="46" text-anchor="middle" fill="#050505">4</text>
<text transform="translate(571.2 1020.2) scale(1.08 1)" font-size="46" text-anchor="middle" fill="#050505">6</text>
<text transform="translate(733.8 1020.2) scale(1.08 1)" font-size="46" text-anchor="middle" fill="#050505">8</text>
<text transform="translate(897.7 1020.2) scale(1.08 1)" font-size="46" text-anchor="middle" fill="#050505">10</text>
<text transform="translate(1059.7 1020.2) scale(1.08 1)" font-size="46" text-anchor="middle" fill="#050505">12</text>
<text transform="translate(1221.9 1020.2) scale(1.08 1)" font-size="46" text-anchor="middle" fill="#050505">14</text>
<path d="M155.8 58.5L180.8 79.5M180.8 58.5L155.8 79.5" stroke="#111" stroke-width="2.4" fill="none"/>
<text transform="translate(193 79.8) scale(1.08 1)" font-size="46" fill="#050505">10</text>
<text transform="translate(244.2 56.6) scale(1.18 1)" font-size="35.5" fill="#050505">4</text>
<text transform="translate(54.4 525.1) scale(1.08 1) rotate(-90)" font-size="52" text-anchor="middle" fill="#050505">Amplitude Spectrum</text>
<text transform="translate(754 1083.7) scale(1.08 1)" font-size="52" text-anchor="middle" fill="#050505">Range(km)</text>
<text transform="translate(271.5 728.3) scale(1.092 1)" font-size="48" fill="#050505">Overcompensation</text>
<text transform="translate(272 782.8) scale(1.08 1)" font-size="48" fill="#050505">target</text>
<text transform="translate(247.5 460) scale(1.08 1)" font-size="48" fill="#ff0000">coherent integration</text>
<text transform="translate(247.5 516) scale(1.087 1)" font-size="48" fill="#ff0000">of the real target</text>
<path d="M685.8 422.6L834 337" stroke="#ff0000" stroke-width="10" stroke-linecap="butt" fill="none"/>
<path d="M862 322.2L822 329L831 335.5L836.8 352.6Z" fill="#ff0000"/>
<g fill="#000"><rect x="-5" y="-4.9" width="10" height="9.8" transform="translate(887.9 746.4) rotate(-180.0)"/><rect x="-5" y="-4.9" width="10" height="9.8" transform="translate(865.5 746.7) rotate(178.5)"/><rect x="-5" y="-4.9" width="10" height="9.8" transform="translate(843.5 747.6) rotate(176.9)"/><rect x="-5" y="-4.9" width="10" height="9.8" transform="translate(821.4 749.1) rotate(175.2)"/><rect x="-5" y="-4.9" width="10" height="9.8" transform="translate(799.4 751.3) rotate(173.2)"/><rect x="-5" y="-4.9" width="10" height="9.8" transform="translate(777.6 754.4) rotate(170.7)"/><rect x="-5" y="-4.9" width="10" height="9.8" transform="translate(755.8 758.6) rotate(167.1)"/><rect x="-5" y="-4.9" width="10" height="9.8" transform="translate(734.5 764.6) rotate(160.7)"/><rect x="-5" y="-4.9" width="10" height="9.8" transform="translate(714.8 774.5) rotate(140.6)"/><rect x="-5" y="-4.9" width="10" height="9.8" transform="translate(714.8 792.8) rotate(39.2)"/><rect x="-5" y="-4.9" width="10" height="9.8" transform="translate(734.6 802.7) rotate(19.2)"/><rect x="-5" y="-4.9" width="10" height="9.8" transform="translate(756.0 808.7) rotate(12.9)"/><rect x="-5" y="-4.9" width="10" height="9.8" transform="translate(777.8 812.9) rotate(9.3)"/><rect x="-5" y="-4.9" width="10" height="9.8" transform="translate(799.7 815.9) rotate(6.8)"/><rect x="-5" y="-4.9" width="10" height="9.8" transform="translate(821.6 818.1) rotate(4.8)"/><rect x="-5" y="-4.9" width="10" height="9.8" transform="translate(843.8 819.6) rotate(3.0)"/><rect x="-5" y="-4.9" width="10" height="9.8" transform="translate(865.8 820.5) rotate(1.5)"/><rect x="-5" y="-4.9" width="10" height="9.8" transform="translate(887.9 820.8) rotate(0.0)"/><rect x="-5" y="-4.9" width="10" height="9.8" transform="translate(910.3 820.5) rotate(-1.5)"/><rect x="-5" y="-4.9" width="10" height="9.8" transform="translate(932.3 819.6) rotate(-3.1)"/><rect x="-5" y="-4.9" width="10" height="9.8" transform="translate(954.4 818.1) rotate(-4.8)"/><rect x="-5" y="-4.9" width="10" height="9.8" transform="translate(976.4 815.9) rotate(-6.8)"/><rect x="-5" y="-4.9" width="10" height="9.8" transform="translate(998.2 812.8) rotate(-9.3)"/><rect x="-5" y="-4.9" width="10" height="9.8" transform="translate(1020.0 808.6) rotate(-12.9)"/><rect x="-5" y="-4.9" width="10" height="9.8" transform="translate(1041.3 802.6) rotate(-19.3)"/><rect x="-5" y="-4.9" width="10" height="9.8" transform="translate(1061.0 792.7) rotate(-39.4)"/><rect x="-5" y="-4.9" width="10" height="9.8" transform="translate(1061.0 774.4) rotate(-140.8)"/><rect x="-5" y="-4.9" width="10" height="9.8" transform="translate(1041.2 764.5) rotate(-160.8)"/><rect x="-5" y="-4.9" width="10" height="9.8" transform="translate(1019.8 758.5) rotate(-167.1)"/><rect x="-5" y="-4.9" width="10" height="9.8" transform="translate(998.0 754.3) rotate(-170.7)"/><rect x="-5" y="-4.9" width="10" height="9.8" transform="translate(976.1 751.3) rotate(-173.2)"/><rect x="-5" y="-4.9" width="10" height="9.8" transform="translate(954.2 749.1) rotate(-175.2)"/><rect x="-5" y="-4.9" width="10" height="9.8" transform="translate(932.0 747.6) rotate(-177.0)"/><rect x="-5" y="-4.9" width="10" height="9.8" transform="translate(910.0 746.7) rotate(-178.5)"/></g>
</g></svg></div></body></html>
